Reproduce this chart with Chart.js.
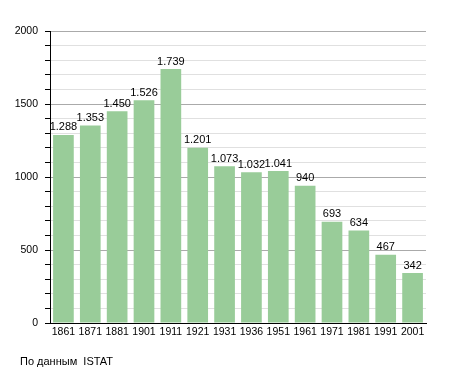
<!DOCTYPE html>
<html>
<head>
<meta charset="utf-8">
<script src="https://cdn.jsdelivr.net/npm/chart.js@4.4.0/dist/chart.umd.min.js"></script>
<style>
  body { margin: 0; background: #fff; }
  .wrap { position: relative; width: 455px; height: 373px; }
  .source {
    position: absolute; left: 20px; top: 355px;
    font-family: 'Liberation Sans', Arial, sans-serif; font-size: 11px; color: #000;
  }
</style>
</head>
<body>
<div class="wrap">
  <canvas id="chart"></canvas>
  <div class="source">По данным&nbsp; ISTAT</div>
</div>
<script>
// данные
const years = ['1861', '1871', '1881', '1901', '1911', '1921', '1931', '1936', '1951', '1961', '1971', '1981', '1991', '2001'];
const population = [1288, 1353, 1450, 1526, 1739, 1201, 1073, 1032, 1041, 940, 693, 634, 467, 342];
const yMax = 2000;
const yMajorStep = 500;
const yMinorStep = 100;

function fmt(v) {
  return String(v).replace(/\B(?=(\d{3})+(?!\d))/g, '.');
}

// подписи над столбцами
const valueLabels = {
  id: 'valueLabels',
  afterDatasetsDraw(chart) {
    const ctx = chart.ctx;
    const meta = chart.getDatasetMeta(0);
    ctx.save();
    ctx.font = '11px "Liberation Sans", Arial, sans-serif';
    ctx.fillStyle = '#000';
    ctx.textAlign = 'center';
    ctx.textBaseline = 'bottom';
    meta.data.forEach((bar, i) => {
      ctx.fillText(fmt(population[i]), bar.x, bar.y - 2);
    });
    ctx.restore();
  }
};

new Chart(document.getElementById('chart'), {
  type: 'bar',
  data: {
    labels: years,
    datasets: [{
      data: population,
      backgroundColor: '#99cc99',
      borderWidth: 0,
      barPercentage: 0.77,
      categoryPercentage: 1
    }]
  },
  options: {
    responsive: true,
    maintainAspectRatio: false,
    animation: false,
    layout: { padding: { top: 31, right: 29, left: 0, bottom: 0 } },
    plugins: { legend: { display: false }, tooltip: { enabled: false } },
    scales: {
      x: {
        grid: { display: false, drawTicks: false },
        border: { color: '#000', width: 1 },
        ticks: {
          color: '#000', padding: 3, maxRotation: 0, autoSkip: false,
          font: { family: '"Liberation Sans", Arial, sans-serif', size: 10.5 }
        },
        afterFit(scale) { scale.height = 50; }
      },
      y: {
        min: 0, max: yMax,
        grid: {
          color: c => (c.tick.value % yMajorStep === 0 ? '#aaaaaa' : '#e0e0e0'),
          tickColor: '#000',
          tickLength: 5
        },
        border: { color: '#000', width: 1 },
        ticks: {
          stepSize: yMinorStep,
          maxTicksLimit: 30,
          autoSkip: false,
          color: '#000', padding: 7,
          font: { family: '"Liberation Sans", Arial, sans-serif', size: 10.5 },
          callback: v => (v % yMajorStep === 0 ? v : '')
        },
        afterFit(scale) { scale.width = 50; }
      }
    }
  },
  plugins: [valueLabels]
});
</script>
</body>
</html>
